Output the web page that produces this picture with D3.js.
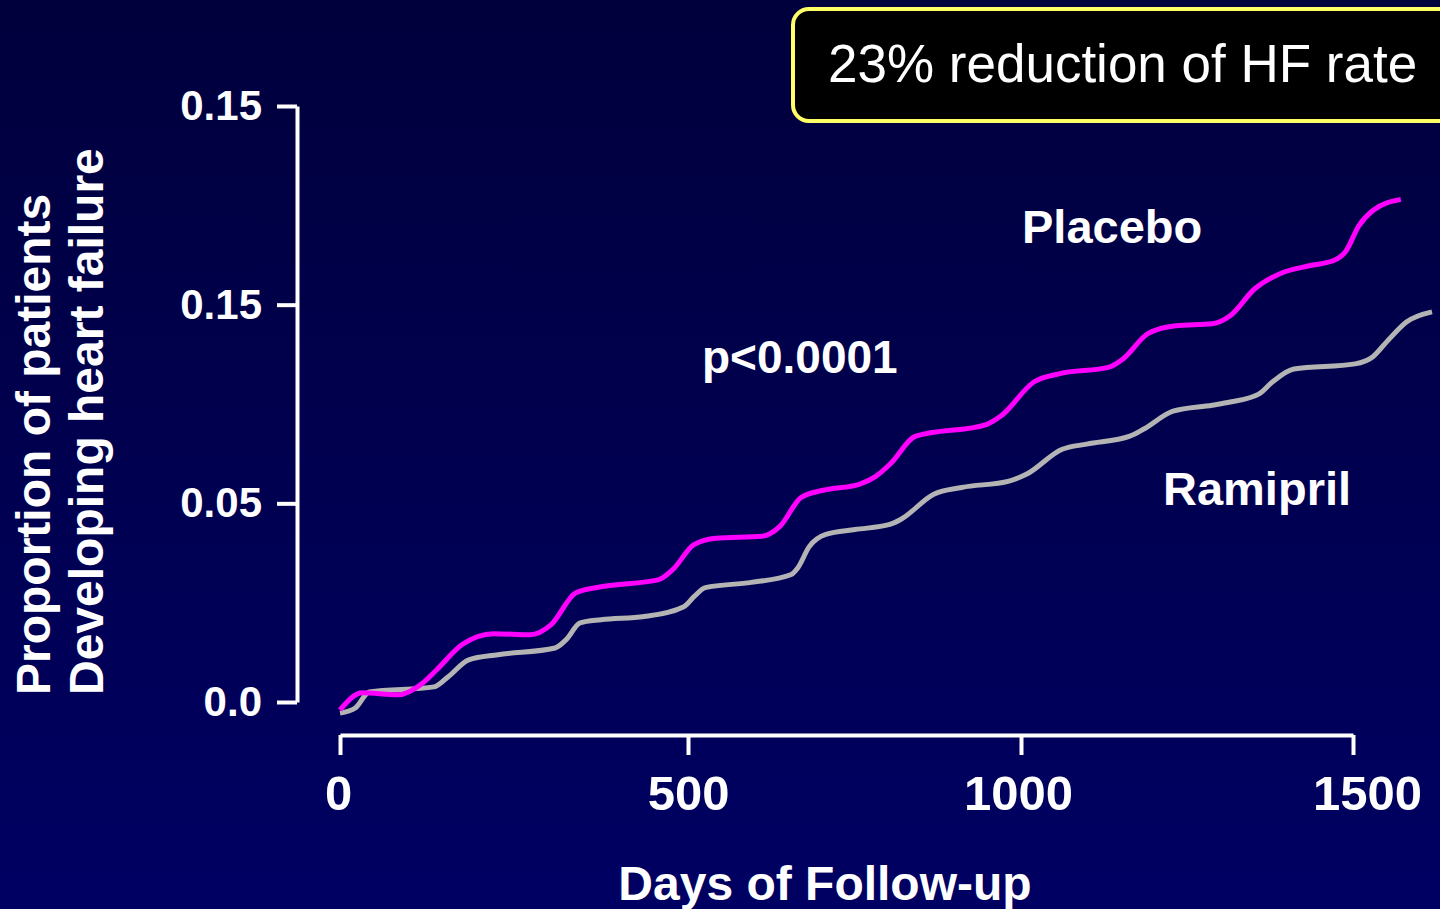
<!DOCTYPE html>
<html>
<head>
<meta charset="utf-8">
<script src="https://cdn.jsdelivr.net/npm/d3@7"></script>
<style>
  html, body { margin: 0; padding: 0; background: #00004a; overflow: hidden; }
  svg { display: block; }
  text { font-family: "Liberation Sans", Arial, sans-serif; fill: #ffffff; }
</style>
</head>
<body>
<svg id="chart" width="1440" height="909"></svg>
<script>
// Cumulative proportion of patients developing heart failure, by days of follow-up
const placeboDays = [0, 32, 83, 119, 139, 175, 221, 273, 303, 339, 375, 458, 478, 509, 542, 611, 638, 670, 703, 757, 782, 803, 842, 949, 970, 1020, 1057, 1133, 1154, 1191, 1233, 1288, 1315, 1352, 1390, 1434, 1471, 1489, 1509, 1530, 1572];
const placeboRate = [-0.0020, 0.0023, 0.0018, 0.0048, 0.0081, 0.0144, 0.0172, 0.0169, 0.0194, 0.0275, 0.0290, 0.0308, 0.0333, 0.0396, 0.0412, 0.0417, 0.0442, 0.0515, 0.0533, 0.0548, 0.0568, 0.0598, 0.0669, 0.0699, 0.0720, 0.0806, 0.0826, 0.0843, 0.0864, 0.0927, 0.0947, 0.0952, 0.0972, 0.1040, 0.1078, 0.1098, 0.1111, 0.1134, 0.1199, 0.1237, 0.1265];

const ramiprilDays = [0, 22, 42, 135, 155, 185, 227, 309, 325, 345, 375, 437, 494, 509, 526, 595, 655, 665, 682, 707, 751, 803, 820, 869, 911, 982, 1008, 1062, 1099, 1164, 1185, 1229, 1288, 1315, 1358, 1379, 1411, 1503, 1530, 1551, 1581, 1619];
const ramiprilRate = [-0.0028, -0.0015, 0.0025, 0.0038, 0.0063, 0.0106, 0.0119, 0.0136, 0.0157, 0.0199, 0.0207, 0.0215, 0.0240, 0.0265, 0.0288, 0.0301, 0.0321, 0.0338, 0.0391, 0.0422, 0.0434, 0.0447, 0.0460, 0.0523, 0.0540, 0.0556, 0.0573, 0.0636, 0.0649, 0.0669, 0.0687, 0.0732, 0.0747, 0.0755, 0.0775, 0.0806, 0.0838, 0.0851, 0.0869, 0.0907, 0.0957, 0.0982];

const xTickValues = [0, 500, 1000, 1500];
const yTickValues = [0, 0.05, 0.10, 0.15];
const yTickLabels = ["0.0", "0.05", "0.15", "0.15"];

const svg = d3.select("#chart");

// Navy backdrop, slightly lighter toward the bottom
const defs = svg.append("defs");
const grad = defs.append("linearGradient")
  .attr("id", "bg").attr("x1", 0).attr("y1", 0).attr("x2", 0).attr("y2", 1);
grad.append("stop").attr("offset", "0%").attr("stop-color", "#00003c");
grad.append("stop").attr("offset", "100%").attr("stop-color", "#000063");
svg.append("rect").attr("width", 1440).attr("height", 909).attr("fill", "url(#bg)");

const x = d3.scaleLinear().domain(xTickValues).range([340, 688, 1021, 1353]);
const y = d3.scaleLinear().domain([0, 0.15]).range([702, 106]);

// Axes
const xAxis = d3.axisBottom(x)
  .tickValues(xTickValues)
  .tickSize(20).tickSizeOuter(0).tickPadding(20)
  .tickFormat(d3.format("d"));
const gx = svg.append("g").attr("transform", "translate(0,735)").call(xAxis);

const yAxis = d3.axisLeft(y)
  .tickValues(yTickValues)
  .tickSize(20).tickSizeOuter(0).tickPadding(15)
  .tickFormat((d, i) => yTickLabels[i]);
const gy = svg.append("g").attr("transform", "translate(297,0)").call(yAxis);

[gx, gy].forEach(g => {
  g.select(".domain").attr("stroke", "#ffffff").attr("stroke-width", 4);
  g.selectAll(".tick line").attr("stroke", "#ffffff").attr("stroke-width", 4);
  g.selectAll(".tick text")
    .attr("fill", "#ffffff")
    .style("font-family", "'Liberation Sans', Arial, sans-serif")
    .style("font-weight", "bold");
});
gx.selectAll(".tick text").style("font-size", "49px");
// the last day label sits a little right of its tick
gx.selectAll(".tick text").attr("dx", d => d === 1500 ? 14 : (d === 1000 ? -3 : (d === 0 ? -2 : 0)));
gy.selectAll(".tick text").style("font-size", "42px");

// Curves
const line = d3.line()
  .x(d => x(d[0]))
  .y(d => y(d[1]))
  .curve(d3.curveMonotoneX);

const ramipril = ramiprilDays.map((d, i) => [d, ramiprilRate[i]]);
const placebo = placeboDays.map((d, i) => [d, placeboRate[i]]);

svg.append("path").datum(ramipril)
  .attr("d", line).attr("fill", "none")
  .attr("stroke", "#b4b4b4").attr("stroke-width", 5);

svg.append("path").datum(placebo)
  .attr("d", line).attr("fill", "none")
  .attr("stroke", "#ff00ff").attr("stroke-width", 5);

// Series labels and significance
svg.append("text").attr("x", 1022).attr("y", 243)
  .style("font-size", "47px").style("font-weight", "bold").text("Placebo");
svg.append("text").attr("x", 1163).attr("y", 505)
  .style("font-size", "47px").style("font-weight", "bold").text("Ramipril");
svg.append("text").attr("x", 702).attr("y", 373)
  .style("font-size", "46px").style("font-weight", "bold").text("p<0.0001");

// Axis titles
svg.append("text").attr("x", 825).attr("y", 900)
  .attr("text-anchor", "middle")
  .style("font-size", "48px").style("font-weight", "bold")
  .text("Days of Follow-up");

const yTitle = svg.append("text")
  .attr("transform", "translate(50,695) rotate(-90)")
  .style("font-size", "48px").style("font-weight", "bold");
yTitle.append("tspan").attr("x", 0).attr("y", 0).text("Proportion of patients");
yTitle.append("tspan").attr("x", 0).attr("y", 53).text("Developing heart failure");

// Callout box
svg.append("rect")
  .attr("x", 793).attr("y", 9).attr("width", 680).attr("height", 112)
  .attr("rx", 16).attr("ry", 16)
  .attr("fill", "#000000").attr("stroke", "#ffff66").attr("stroke-width", 4);
svg.append("text").attr("x", 828).attr("y", 82)
  .style("font-size", "53px")
  .text("23% reduction of HF rate");
</script>
</body>
</html>
